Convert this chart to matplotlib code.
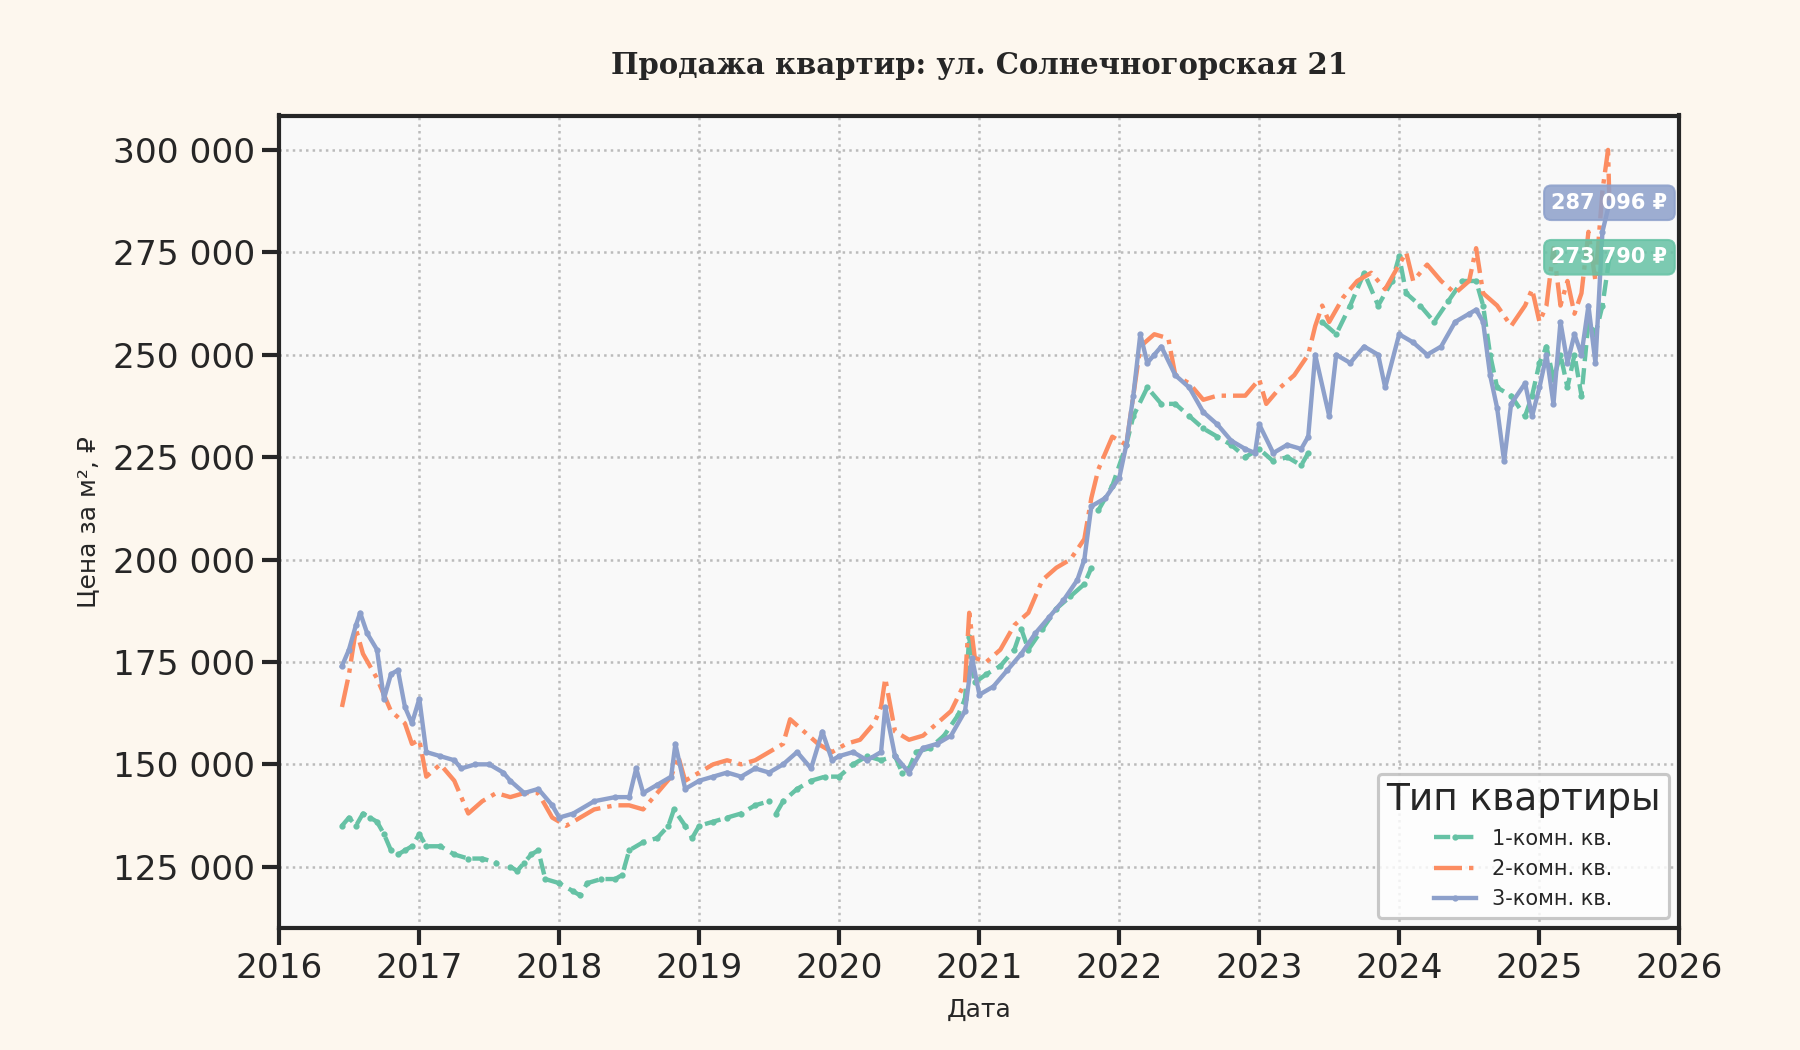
import numpy as np
import pandas as pd
import matplotlib
matplotlib.use("Agg")
import matplotlib.pyplot as plt
import matplotlib.dates as mdates
from matplotlib.ticker import FuncFormatter

nan = np.nan

# 1-комн. (decimal year, price per m2)
t1 = [2016.45, 2016.5, 2016.55, 2016.6, 2016.65, 2016.7, 2016.75, 2016.8, 2016.85, 2016.9, 2016.95,
      2017.0, 2017.05, 2017.15, 2017.25, 2017.35, 2017.45, 2017.55, 2017.6, 2017.65, 2017.7, 2017.75,
      2017.8, 2017.85, 2017.9, 2018.0, 2018.1, 2018.15, 2018.2, 2018.3, 2018.4, 2018.45, 2018.5,
      2018.6, 2018.7, 2018.78, 2018.82, 2018.9, 2018.95, 2019.0, 2019.1, 2019.2, 2019.3, 2019.4,
      2019.5, 2019.52, 2019.55, 2019.6, 2019.7, 2019.8, 2019.9, 2020.0, 2020.1, 2020.2, 2020.3,
      2020.4, 2020.45, 2020.5, 2020.55, 2020.65, 2020.75, 2020.85, 2020.9, 2020.93, 2020.97, 2021.05,
      2021.15, 2021.25, 2021.3, 2021.35, 2021.45, 2021.55, 2021.65, 2021.75, 2021.8, 2021.82, 2021.85,
      2021.95, 2022.05, 2022.1, 2022.2, 2022.3, 2022.4, 2022.5, 2022.6, 2022.7, 2022.8, 2022.9,
      2023.0, 2023.1, 2023.2, 2023.3, 2023.35, 2023.38, 2023.45, 2023.55, 2023.65, 2023.75, 2023.85,
      2023.95, 2024.0, 2024.05, 2024.15, 2024.25, 2024.35, 2024.45, 2024.55, 2024.6, 2024.65, 2024.7,
      2024.8, 2024.9, 2024.95, 2025.0, 2025.05, 2025.1, 2025.15, 2025.2, 2025.25, 2025.3, 2025.35,
      2025.4, 2025.45, 2025.5]
p1 = [135000, 137000, 135000, 138000, 137000, 136000, 133000, 129000, 128000, 129000, 130000,
      133000, 130000, 130000, 128000, 127000, 127000, 126000, nan, 125000, 124000, 126000,
      128000, 129000, 122000, 121000, 119000, 118000, 121000, 122000, 122000, 123000, 129000,
      131000, 132000, 135000, 139000, 135000, 132000, 135000, 136000, 137000, 138000, 140000,
      141000, nan, 138000, 141000, 144000, 146000, 147000, 147000, 150000, 152000, 151000,
      152000, 148000, 149000, 153000, 154000, 157000, 162000, 166000, 181000, 170000, 172000,
      174000, 178000, 183000, 178000, 183000, 188000, 191000, 194000, 198000, nan, 212000,
      218000, 228000, 235000, 242000, 238000, 238000, 235000, 232000, 230000, 228000, 225000,
      227000, 224000, 225000, 223000, 226000, nan, 258000, 255000, 262000, 270000, 262000,
      268000, 274000, 265000, 262000, 258000, 263000, 268000, 268000, 262000, 250000, 242000,
      240000, 235000, 240000, 248000, 252000, 244000, 250000, 242000, 250000, 240000, 258000,
      255000, 262000, 273790]

# 2-комн.
t2 = [2016.45, 2016.5, 2016.55, 2016.6, 2016.7, 2016.8, 2016.9, 2016.95, 2017.0, 2017.05, 2017.15,
      2017.25, 2017.35, 2017.45, 2017.55, 2017.65, 2017.75, 2017.85, 2017.95, 2018.05, 2018.15,
      2018.25, 2018.4, 2018.5, 2018.6, 2018.7, 2018.8, 2018.85, 2018.9, 2019.0, 2019.1, 2019.2,
      2019.3, 2019.4, 2019.5, 2019.6, 2019.65, 2019.75, 2019.85, 2019.95, 2020.05, 2020.15, 2020.25,
      2020.3, 2020.33, 2020.4, 2020.5, 2020.6, 2020.7, 2020.8, 2020.9, 2020.93, 2020.97, 2021.05,
      2021.15, 2021.25, 2021.35, 2021.45, 2021.55, 2021.65, 2021.75, 2021.8, 2021.85, 2021.95,
      2022.05, 2022.1, 2022.15, 2022.25, 2022.35, 2022.4, 2022.5, 2022.6, 2022.7, 2022.8, 2022.9,
      2023.0, 2023.05, 2023.15, 2023.25, 2023.35, 2023.4, 2023.45, 2023.5, 2023.6, 2023.7, 2023.8,
      2023.9, 2024.0, 2024.05, 2024.1, 2024.2, 2024.3, 2024.4, 2024.5, 2024.55, 2024.6, 2024.7,
      2024.8, 2024.9, 2024.95, 2025.0, 2025.05, 2025.1, 2025.15, 2025.2, 2025.25, 2025.3, 2025.35,
      2025.4, 2025.45, 2025.49, 2025.5]
p2 = [164000, 172000, 183000, 177000, 171000, 163000, 160000, 155000, 156000, 147000, 150000,
      146000, 138000, 141000, 143000, 142000, 143000, 143000, 137000, 135000, 137000,
      139000, 140000, 140000, 139000, 143000, 147000, 152000, 146000, 148000, 150000, 151000,
      150000, 151000, 153000, 155000, 161000, 158000, 155000, 153000, 155000, 156000, 160000,
      164000, 171000, 158000, 156000, 157000, 160000, 163000, 170000, 187000, 176000, 175000,
      178000, 184000, 187000, 195000, 198000, 200000, 205000, 215000, 222000, 230000,
      228000, 240000, 252000, 255000, 254000, 245000, 243000, 239000, 240000, 240000, 240000,
      244000, 238000, 242000, 245000, 250000, 257000, 262000, 258000, 264000, 268000, 270000,
      266000, 272000, 275000, 268000, 272000, 268000, 265000, 268000, 276000, 265000, 262000,
      257000, 262000, 266000, 258000, 262000, 276000, 262000, 268000, 260000, 265000, 280000,
      268000, 290000, 300000, 287096]

# 3-комн.
t3 = [2016.45, 2016.5, 2016.55, 2016.58, 2016.63, 2016.7, 2016.75, 2016.8, 2016.85, 2016.9, 2016.95,
      2017.0, 2017.05, 2017.15, 2017.25, 2017.3, 2017.4, 2017.5, 2017.6, 2017.65, 2017.75, 2017.85,
      2017.95, 2018.0, 2018.1, 2018.25, 2018.4, 2018.5, 2018.55, 2018.6, 2018.7, 2018.8, 2018.83,
      2018.9, 2019.0, 2019.1, 2019.2, 2019.3, 2019.4, 2019.5, 2019.6, 2019.7, 2019.8, 2019.88,
      2019.95, 2020.0, 2020.1, 2020.2, 2020.3, 2020.33, 2020.4, 2020.5, 2020.6, 2020.7, 2020.8,
      2020.9, 2020.95, 2021.0, 2021.1, 2021.2, 2021.3, 2021.4, 2021.5, 2021.6, 2021.7, 2021.75,
      2021.8, 2021.9, 2022.0, 2022.05, 2022.1, 2022.15, 2022.2, 2022.25, 2022.3, 2022.4, 2022.5,
      2022.6, 2022.7, 2022.8, 2022.9, 2022.97, 2023.0, 2023.1, 2023.2, 2023.3, 2023.35, 2023.4,
      2023.5, 2023.55, 2023.65, 2023.75, 2023.85, 2023.9, 2024.0, 2024.1, 2024.2, 2024.3, 2024.4,
      2024.5, 2024.55, 2024.6, 2024.65, 2024.7, 2024.75, 2024.8, 2024.9, 2024.95, 2025.0, 2025.05,
      2025.1, 2025.15, 2025.2, 2025.25, 2025.3, 2025.35, 2025.4, 2025.45, 2025.5]
p3 = [174000, 178000, 184000, 187000, 182000, 178000, 166000, 172000, 173000, 164000, 160000,
      166000, 153000, 152000, 151000, 149000, 150000, 150000, 148000, 146000, 143000, 144000,
      140000, 137000, 138000, 141000, 142000, 142000, 149000, 143000, 145000, 147000, 155000,
      144000, 146000, 147000, 148000, 147000, 149000, 148000, 150000, 153000, 149000, 158000,
      151000, 152000, 153000, 151000, 153000, 164000, 152000, 148000, 154000, 155000, 157000,
      163000, 176000, 167000, 169000, 173000, 177000, 182000, 186000, 190000, 195000, 200000,
      213000, 215000, 220000, 228000, 240000, 255000, 248000, 250000, 252000, 245000, 242000,
      236000, 233000, 229000, 227000, 226000, 233000, 226000, 228000, 227000, 230000, 250000,
      235000, 250000, 248000, 252000, 250000, 242000, 255000, 253000, 250000, 252000, 258000,
      260000, 261000, 258000, 245000, 237000, 224000, 238000, 243000, 235000, 242000, 250000,
      238000, 258000, 248000, 255000, 250000, 262000, 248000, 280000, 287096]

labels = ["1-комн. кв.", "2-комн. кв.", "3-комн. кв."]
colors = ["#66c2a5", "#fc8d62", "#8da0cb"]
styles = ["--", "-.", "-"]
markers = [".", "", "."]


def to_dates(years):
    out = []
    for y in years:
        base = pd.Timestamp(year=int(y), month=1, day=1)
        out.append(base + pd.Timedelta(days=(y - int(y)) * 365))
    return out


def space_fmt(v, pos):
    return f"{int(v):,}".replace(",", " ")


def main():
    plt.rcParams["font.family"] = ["DejaVu Sans"]
    plt.rcParams["text.color"] = "#262626"
    fig = plt.figure(figsize=(12, 7), dpi=150, facecolor="#fdf7ee")
    ax = fig.add_axes([0.155, 0.116, 0.778, 0.774])
    ax.set_facecolor("#f9f9f9")

    series = [(t1, p1), (t2, p2), (t3, p3)]
    for (t, p), lab, c, ls, mk in zip(series, labels, colors, styles, markers):
        ax.plot(to_dates(t), p, ls=ls, color=c, lw=2.1, marker=mk, ms=4, label=lab)

    # подписи последних значений
    for (t, p), c in [((t3, p3), colors[2]), ((t1, p1), colors[0])]:
        d = to_dates(t)[-1]
        ax.text(d, p[-1], f"{space_fmt(p[-1], None)} ₽", ha="center", va="center",
                color="white", fontsize=10, fontweight="bold",
                bbox=dict(boxstyle="round,pad=0.35", fc=c, ec=c, alpha=0.85))

    ax.set_xlim(pd.Timestamp("2016-01-01"), pd.Timestamp("2026-01-01"))
    ax.set_ylim(110000, 308400)
    ax.xaxis.set_major_locator(mdates.YearLocator())
    ax.xaxis.set_major_formatter(mdates.DateFormatter("%Y"))
    ax.yaxis.set_major_formatter(FuncFormatter(space_fmt))
    ax.tick_params(axis="both", labelsize=16.5, length=8, width=2, color="#262626",
                   labelcolor="#262626")
    for s in ax.spines.values():
        s.set_linewidth(2)
        s.set_color("#262626")
    ax.grid(True, ls=":", color="#bbbbbb", lw=1.2)

    ax.set_title("Продажа квартир: ул. Солнечногорская 21", family="DejaVu Serif",
                 fontweight="bold", fontsize=14, pad=20, color="#262626")
    ax.set_xlabel("Дата", fontsize=12, color="#262626", labelpad=6)
    ax.set_ylabel("Цена за м², ₽", fontsize=12, color="#262626", labelpad=6)

    leg = ax.legend(title="Тип квартиры", loc="lower right", fontsize=10, title_fontsize=18,
                    frameon=True, fancybox=True, edgecolor="#bbbbbb", facecolor="white")
    leg.get_frame().set_linewidth(1.5)

    fig.savefig("out.png", dpi=150, facecolor=fig.get_facecolor())


if __name__ == "__main__":
    main()
